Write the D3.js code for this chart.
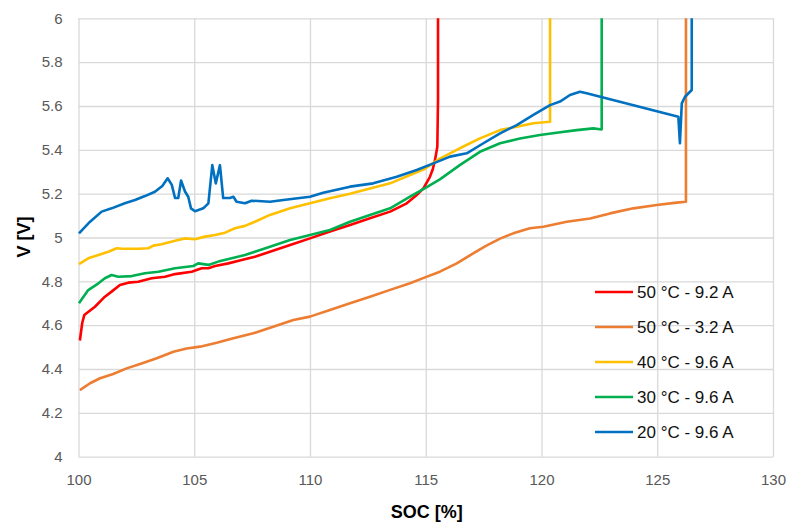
<!DOCTYPE html>
<html lang="en">
<head>
<meta charset="UTF-8">
<title>V vs SOC</title>
<style>
  body { margin: 0; background: #fff; }
  .grid line { stroke: #d9d9d9; stroke-width: 1.3; }
  .grid path { display: none; }
  .grid text { fill: #595959; font-family: "Liberation Sans", Arial, sans-serif; font-size: 15px; }
  .title { font-family: "Liberation Sans", Arial, sans-serif; font-weight: bold; font-size: 18px; fill: #000; }
  .legend text { font-family: "Liberation Sans", Arial, sans-serif; font-size: 17px; fill: #111; }
</style>
</head>
<body>
<svg width="787" height="526"></svg>
<script src="https://d3js.org/d3.v7.min.js"></script>
<script>
// tick values
const xTicks = [100, 105, 110, 115, 120, 125, 130];
const yTicks = [4, 4.2, 4.4, 4.6, 4.8, 5, 5.2, 5.4, 5.6, 5.8, 6];

// series names and colours
const names = ["50 °C - 9.2 A", "50 °C  - 3.2 A", "40 °C - 9.6 A", "30 °C - 9.6 A", "20 °C - 9.6 A"];
const colors = ["#ff0000", "#ed7d31", "#ffc000", "#00b050", "#0070c0"];

// [SOC %, V]
const red50 = [
  [100.06, 4.53], [100.16, 4.61], [100.25, 4.646], [100.71, 4.684], [101.14, 4.73], [101.43, 4.753],
  [101.79, 4.783], [102.15, 4.794], [102.58, 4.798], [103.16, 4.814], [103.74, 4.821], [104.17, 4.833],
  [104.89, 4.844], [105.32, 4.86], [105.61, 4.86], [105.9, 4.87], [106.47, 4.882], [107.05, 4.897],
  [107.62, 4.912], [108.27, 4.935], [109.14, 4.966], [110.0, 4.996], [110.86, 5.027], [111.73, 5.057],
  [112.59, 5.088], [113.46, 5.118], [114.18, 5.156], [114.61, 5.194], [114.9, 5.224], [115.18, 5.277],
  [115.3, 5.31], [115.4, 5.354], [115.5, 5.414], [115.53, 5.63], [115.53, 6]
];
const orange50 = [
  [100.06, 4.304], [100.5, 4.335], [100.93, 4.358], [101.5, 4.377], [102.08, 4.403], [102.66, 4.423],
  [103.38, 4.449], [104.1, 4.479], [104.67, 4.494], [105.25, 4.502], [105.97, 4.52], [106.69, 4.54],
  [107.55, 4.563], [108.41, 4.593], [109.28, 4.624], [110.0, 4.639], [110.86, 4.669], [111.73, 4.7],
  [112.59, 4.73], [113.46, 4.761], [114.32, 4.791], [114.97, 4.818], [115.61, 4.844], [116.34, 4.882],
  [117.05, 4.928], [117.6, 4.962], [118.21, 4.995], [118.78, 5.019], [119.5, 5.042], [120.08, 5.049],
  [121.09, 5.072], [122.1, 5.087], [122.96, 5.11], [123.97, 5.133], [124.98, 5.148], [125.84, 5.159],
  [126.24, 5.163], [126.24, 6]
];
const yellow40 = [
  [100.02, 4.879], [100.42, 4.905], [100.86, 4.92], [101.29, 4.935], [101.65, 4.951], [101.9, 4.949],
  [102.58, 4.949], [103.02, 4.951], [103.23, 4.963], [103.59, 4.969], [104.17, 4.985], [104.6, 4.996],
  [105.03, 4.992], [105.46, 5.004], [105.9, 5.011], [106.33, 5.022], [106.76, 5.042], [107.19, 5.053],
  [107.62, 5.072], [108.27, 5.103], [109.14, 5.133], [110.0, 5.156], [110.86, 5.179], [111.73, 5.2],
  [112.59, 5.224], [113.46, 5.247], [114.32, 5.285], [114.9, 5.31], [115.61, 5.36], [116.47, 5.407],
  [117.34, 5.452], [118.21, 5.49], [118.93, 5.505], [119.65, 5.521], [120.37, 5.528], [120.37, 6]
];
const green30 = [
  [100.02, 4.7], [100.42, 4.76], [100.86, 4.791], [101.14, 4.814], [101.43, 4.829], [101.72, 4.821],
  [102.3, 4.824], [102.87, 4.837], [103.45, 4.844], [104.17, 4.86], [104.96, 4.87], [105.17, 4.882],
  [105.61, 4.875], [106.04, 4.89], [106.62, 4.905], [107.19, 4.92], [107.62, 4.935], [108.27, 4.958],
  [109.14, 4.989], [110.0, 5.011], [110.86, 5.034], [111.73, 5.072], [112.59, 5.103], [113.46, 5.133],
  [114.32, 5.186], [114.97, 5.225], [115.61, 5.265], [116.47, 5.33], [117.34, 5.391], [118.21, 5.43],
  [119.07, 5.452], [119.93, 5.468], [120.65, 5.478], [121.52, 5.49], [122.24, 5.498], [122.6, 5.493],
  [122.6, 6]
];
const blue20 = [
  [100.02, 5.019], [100.5, 5.072], [101.0, 5.118], [101.43, 5.133], [102.0, 5.156], [102.44, 5.171],
  [102.87, 5.189], [103.3, 5.209], [103.62, 5.235], [103.85, 5.27], [104.03, 5.24], [104.17, 5.18],
  [104.31, 5.18], [104.43, 5.26], [104.6, 5.21], [104.74, 5.186], [104.86, 5.133], [105.03, 5.12],
  [105.39, 5.133], [105.61, 5.156], [105.78, 5.33], [105.93, 5.247], [106.11, 5.33], [106.25, 5.18],
  [106.54, 5.18], [106.69, 5.186], [106.83, 5.163], [107.19, 5.156], [107.48, 5.168], [108.27, 5.163],
  [108.85, 5.171], [110.0, 5.186], [110.57, 5.204], [111.73, 5.232], [112.73, 5.247], [113.75, 5.277],
  [114.61, 5.308], [115.33, 5.338], [116.05, 5.369], [116.77, 5.384], [117.49, 5.43], [118.21, 5.475],
  [118.93, 5.513], [119.65, 5.559], [120.37, 5.604], [120.8, 5.62], [121.23, 5.65], [121.66, 5.665],
  [121.95, 5.658], [125.91, 5.551], [125.98, 5.43], [126.06, 5.612], [126.2, 5.642], [126.49, 5.673],
  [126.49, 6]
];
const series = [red50, orange50, yellow40, green30, blue20];

const svg = d3.select("svg");
const plotLeft = 78.5, plotRight = 773, plotTop = 18.3, plotBottom = 456.7;

const x = d3.scaleLinear().domain([100, 130]).range([plotLeft, plotRight]);
const y = d3.scaleLinear().domain([4, 6]).range([plotBottom, plotTop]);

// grid + tick labels
svg.append("g")
  .attr("class", "grid")
  .attr("transform", `translate(0,${plotBottom})`)
  .call(d3.axisBottom(x).tickValues(xTicks).tickSizeInner(-(plotBottom - plotTop)).tickSizeOuter(0).tickPadding(14))
  .selectAll("text").attr("dy", "0.95em");

svg.append("g")
  .attr("class", "grid")
  .attr("transform", `translate(${plotLeft},0)`)
  .call(d3.axisLeft(y).tickValues(yTicks).tickSizeInner(-(plotRight - plotLeft)).tickSizeOuter(0).tickPadding(16)
    .tickFormat(d => String(+d.toFixed(1))));

// lines
const line = d3.line().x(d => x(d[0])).y(d => y(d[1]));
svg.append("g").selectAll("path")
  .data(series)
  .enter().append("path")
  .attr("d", line)
  .attr("fill", "none")
  .attr("stroke", (d, i) => colors[i])
  .attr("stroke-width", 2.6)
  .attr("stroke-linejoin", "round");

// axis titles
svg.append("text")
  .attr("class", "title")
  .attr("x", (plotLeft + plotRight) / 2 + 1)
  .attr("y", 518)
  .attr("text-anchor", "middle")
  .text("SOC [%]");

svg.append("text")
  .attr("class", "title")
  .attr("transform", "translate(30,237) rotate(-90)")
  .attr("text-anchor", "middle")
  .text("V [V]");

// legend
const legend = svg.append("g").attr("class", "legend");
const rows = legend.selectAll("g")
  .data(names)
  .enter().append("g")
  .attr("transform", (d, i) => `translate(595,${292 + i * 35})`);
rows.append("line")
  .attr("x1", 0).attr("x2", 38)
  .attr("stroke", (d, i) => colors[i])
  .attr("stroke-width", 2.6);
rows.append("text")
  .attr("x", 42)
  .attr("y", 6)
  .text(d => d);
</script>
</body>
</html>
